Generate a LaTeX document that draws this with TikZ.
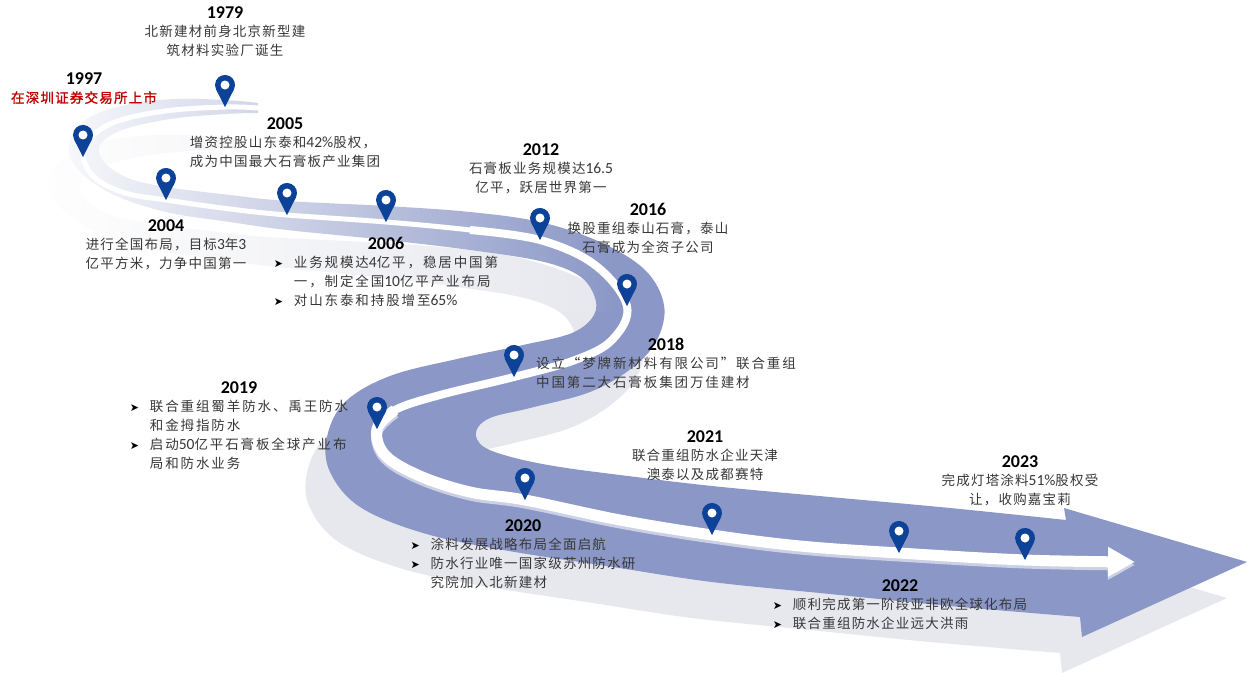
\documentclass[tikz,border=0pt]{standalone}
\usepackage{fontspec}
\setmainfont{Carlito}
\newfontfamily\cjk{Noto Sans CJK SC}[LetterSpace=9]
\newfontfamily\cjkw{Noto Sans CJK SC}[LetterSpace=14]
\newfontfamily\cjkb{Noto Sans CJK SC}[LetterSpace=9, FakeBold=1.5]
\newfontfamily\latf{Carlito}
\newfontfamily\sym{DejaVu Sans}
\usetikzlibrary{positioning, arrows.meta, fadings}

\definecolor{roadblue}{RGB}{139,151,198}
\definecolor{roadgray}{RGB}{231,232,238}
\definecolor{pinblue}{RGB}{12,66,152}
\definecolor{txtgray}{RGB}{55,55,55}
\definecolor{listred}{RGB}{192,0,0}

\newcommand\lat[1]{{\latf\fontsize{15.5}{19}\selectfont #1}}
\newcommand\bul{\makebox[20pt][l]{\sym\color{black}\fontsize{11}{19}\selectfont ➤}}
\newcommand\ind{\hspace*{20pt}}

\tikzfading[name=roadfade, left color=transparent!0, middle color=transparent!30, right color=transparent!100]

\tikzset{
  mappin/.pic={
    \fill[pinblue] (0,0) -- (8.9,-17.5) arc[start angle=27, end angle=-207, radius=10] -- cycle;
    \fill[white] (0,-22) circle[radius=4.5];
  },
  road/.pic={
    \path[pic actions] plot[smooth, tension=.6] coordinates {
      (258,113) (225,114) (170,119) (122,130) (100,145) (104,162) (128,178)
      (166,187) (230,195) (287,201) (386,206) (470,212) (540,222) (600,242)
      (645,270) (664,305) (657,340) (632,368) (590,392) (530,408) (490,418)
      (476,432) (484,447) (515,458) (560,467) (620,475) (712,486) (830,497)
      (950,508) (1066,520)}
      -- (1064,508) -- (1247,562) -- (1082,637)
      -- plot[smooth, tension=.6] coordinates {
      (1080,617) (950,606) (830,594) (712,582) (613,567) (503,550) (423,533)
      (360,507) (330,472) (327,437) (345,402) (390,376) (457,359) (523,345)
      (572,333) (594,315) (594,295) (578,275) (540,261) (470,250) (386,240)
      (287,230) (230,222) (166,212) (110,193) (75,166) (70,140) (90,117)
      (130,104) (175,99) (225,100) (258,103)} -- cycle;
  }
}

\begin{document}
\begin{tikzpicture}[x=1pt, y=-1pt,
  year/.style={font=\bfseries\fontsize{18}{20}\selectfont, inner sep=0pt},
  desc/.style={font=\cjk\fontsize{13.5}{19}\selectfont, text=txtgray, inner sep=0pt, align=center},
  descl/.style={desc, align=left},
  descw/.style={descl, font=\cjkw\fontsize{13.5}{19}\selectfont}]
\useasboundingbox (0,0) rectangle (1247,672);

% road with its shadow
\pic[fill=roadgray] at (-20,36) {road};
\pic[fill=roadblue] at (0,0) {road};

% white middle line, getting wider along the way
\draw[white, line width=5pt, line cap=round] plot[smooth, tension=.6] coordinates {
  (258,108) (225,107) (165,111) (115,122) (88,140) (83,157) (95,178) (125,193)
  (166,200) (230,209) (287,215) (386,222) (470,230) (540,240)};
\draw[white, line width=8pt] plot[smooth, tension=.6] coordinates {
  (470,230) (540,240) (595,265) (627,306) (612,340) (575,360) (514,377)
  (440,395) (395,410) (377,429)};
\begin{scope}[shift={(0,3)}]
  \draw[white!55!roadblue, line width=11pt, -{Triangle[length=27pt, width=28pt]}] plot[smooth, tension=.6] coordinates {
    (395,410) (377,429) (385,455) (420,476) (470,492) (525,500) (620,520)
    (712,535) (800,546) (899,553) (1025,560) (1135,562)};
\end{scope}
\draw[white, line width=11pt, -{Triangle[length=27pt, width=28pt]}] plot[smooth, tension=.6] coordinates {
  (395,410) (377,429) (385,455) (420,476) (470,492) (525,500) (620,520)
  (712,535) (800,546) (899,553) (1025,560) (1135,562)};

% the early part fades out
\fill[white, path fading=roadfade] (30,60) rectangle (615,312);

% pins, one per year
\foreach \x/\y [count=\n] in {225/107, 83/157, 166/200, 287/215, 386/222, 540/240, 627/306,
    514/377, 377/429, 525/500, 712/535, 899/553, 1025/560} {
  \coordinate (t\n) at (\x,\y);
  \pic at (t\n) {mappin};
}

% years and texts
\node (y1979) [year] at (225,13) {1979};
\node (d1979) [desc, below=6pt of y1979] {北新建材前身北京新型建\\筑材料实验厂诞生};

\node (y1997) [year] at (84,79) {1997};
\node (d1997) [desc, below=6pt of y1997, font=\cjkb\fontsize{13.5}{19}\selectfont, text=listred] {在深圳证券交易所上市};

\node (y2005) [year] at (285,124) {2005};
\node (d2005) [descl, below=6pt of y2005] {增资控股山东泰和\lat{42\%}股权，\\成为中国最大石膏板产业集团};

\node (y2004) [year] at (166,226) {2004};
\node (d2004) [desc, below=6pt of y2004] {进行全国布局，目标\lat{3}年\lat{3}\\亿平方米，力争中国第一};

\node (y2006) [year] at (386,243) {2006};
\node (d2006) [descw, below=6pt of y2006] {\bul 业务规模达\lat{4}亿平，稳居中国第\\\ind 一，制定全国\lat{10}亿平产业布局\\\bul 对山东泰和持股增至\lat{65\%}};

\node (y2012) [year] at (541,150) {2012};
\node (d2012) [desc, below=6pt of y2012] {石膏板业务规模达\lat{16.5}\\亿平，跃居世界第一};

\node (y2016) [year] at (648,209) {2016};
\node (d2016) [desc, below=6pt of y2016] {换股重组泰山石膏，泰山\\石膏成为全资子公司};

\node (y2018) [year] at (666,344) {2018};
\node (d2018) [descw, below=6pt of y2018] {设立“梦牌新材料有限公司”联合重组\\中国第二大石膏板集团万佳建材};

\node (y2019) [year] at (239,388) {2019};
\node (d2019) [descw, below=6pt of y2019] {\bul 联合重组蜀羊防水、禹王防水\\\ind 和金拇指防水\\\bul 启动\lat{50}亿平石膏板全球产业布\\\ind 局和防水业务};

\node (y2020) [year] at (523,526) {2020};
\node (d2020) [descl, below=6pt of y2020] {\bul 涂料发展战略布局全面启航\\\bul 防水行业唯一国家级苏州防水研\\\ind 究院加入北新建材};

\node (y2021) [year] at (705,437) {2021};
\node (d2021) [desc, below=6pt of y2021] {联合重组防水企业天津\\澳泰以及成都赛特};

\node (y2022) [year] at (900,586) {2022};
\node (d2022) [descl, below=6pt of y2022] {\bul 顺利完成第一阶段亚非欧全球化布局\\\bul 联合重组防水企业远大洪雨};

\node (y2023) [year] at (1020,462) {2023};
\node (d2023) [desc, below=6pt of y2023] {完成灯塔涂料\lat{51\%}股权受\\让，收购嘉宝莉};
\end{tikzpicture}
\end{document}
